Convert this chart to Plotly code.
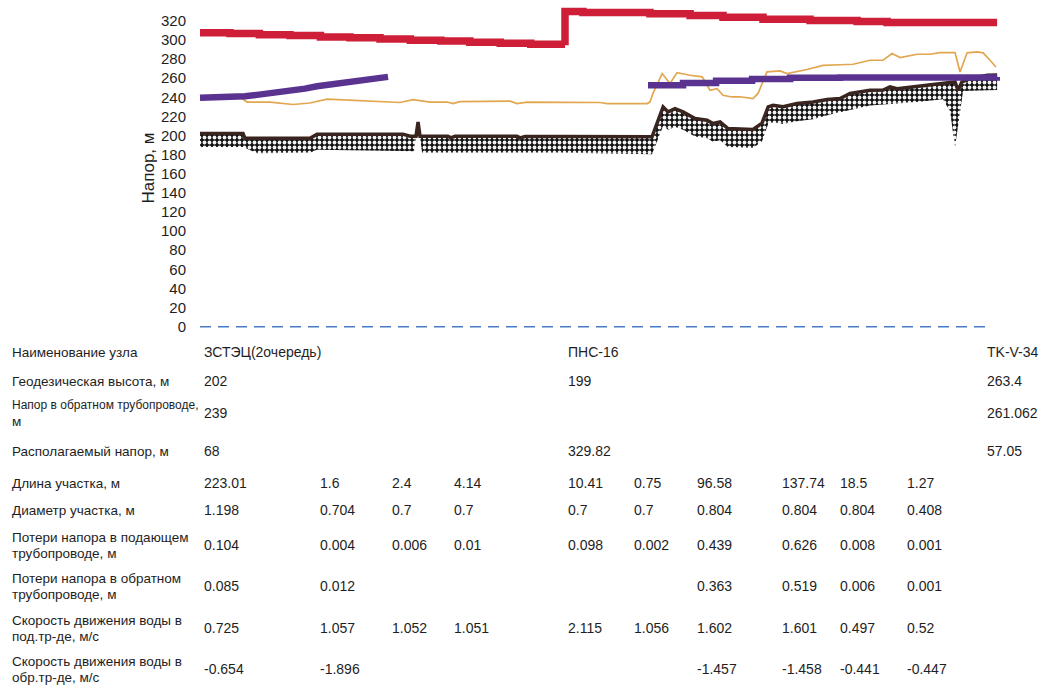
import plotly.graph_objects as go

# ---------------- profile data (distance along route, m) ----------------
# supply head (stepped)
supply1_x = [0, 18.7, 37.0, 56.1, 75.0, 93.4, 112.1, 131.0, 150.0, 168.0, 187.0, 206.0, 227.3]
supply1_y = [307.6, 306.8, 305.5, 304.6, 303.0, 302.2, 301.0, 299.6, 298.8, 297.5, 296.4, 295.4, 294.4]
supply2_x = [227.3, 238.5, 280.2, 305.2, 325.7, 350.6, 379.9, 409.2, 427.9, 496.4]
supply2_y = [329.82, 328.6, 327.4, 325.4, 323.6, 321.6, 320.2, 319.2, 318.1, 318.1]

# return head
return1_x = [0, 20.6, 28.0, 35.5, 43.6, 56.1, 65.4, 72.9, 81.0, 89.1, 99.6, 105.9, 112.1, 117.1]
return1_y = [239.4, 239.4, 241.0, 242.5, 244.0, 246.5, 249.0, 251.5, 253.5, 255.5, 256.5, 258.0, 259.8, 261.3]
return2_x = [279.0, 300.8, 321.4, 343.8, 367.5, 398.6, 496.4]
return2_y = [252.6, 255.0, 257.3, 259.0, 260.3, 260.6, 261.062]

# static / auxiliary head line
aux_x = [0, 24.9, 29.3, 43.6, 57.9, 68.5, 79.1, 93.4, 110.2, 124.6, 132.7, 143.2, 153.8, 157.6,
         161.9, 193.1, 197.4, 203.7, 249.1, 253.5, 278.4, 280.2, 282.1, 287.8, 292.7, 297.1,
         305.2, 312.7, 317.6, 322.0, 325.7, 331.3, 336.3, 344.4, 347.5, 353.1, 361.2, 365.6,
         378.0, 388.0, 398.6, 406.7, 417.3, 425.4, 431.0, 436.0, 446.6, 454.6, 460.9, 470.2,
         473.3, 477.7, 483.9, 487.7, 492.0, 495.7]
aux_y = [240.3, 240.3, 235.0, 235.0, 232.4, 234.0, 238.0, 237.0, 235.8, 234.5, 237.6, 235.0, 235.0, 233.4,
         235.5, 236.0, 233.4, 235.0, 234.5, 233.4, 233.4, 235.0, 244.0, 264.8, 254.3, 265.8,
         263.0, 261.3, 247.3, 249.0, 242.0, 240.3, 240.5, 238.7, 244.0, 266.5, 267.5, 264.8,
         269.0, 273.4, 274.0, 274.5, 278.7, 278.7, 285.7, 281.5, 285.0, 285.0, 286.7, 286.7,
         266.5, 286.5, 287.4, 286.5, 278.7, 271.7]

# ground elevation (top of terrain band)
ground_x = [0, 26.8, 28.0, 68.5, 72.9, 126.4, 130.8, 134.5, 135.8, 137.0, 154.4, 156.3, 158.8,
            197.4, 199.3, 202.4, 227.3, 281.5, 288.4, 291.5, 295.8, 300.8, 308.3, 315.8, 319.5,
            323.9, 328.8, 344.4, 350.0, 353.8, 356.9, 363.1, 371.8, 381.8, 390.5, 398.6, 404.8,
            417.3, 425.4, 429.7, 434.1, 446.6, 460.9, 470.2, 472.1, 474.5, 479.6, 490.2, 496.4]
ground_y = [202.0, 202.0, 197.0, 197.0, 201.4, 201.4, 199.3, 199.3, 214.0, 199.3, 199.3, 197.5, 199.3,
            199.3, 197.5, 199.0, 199.0, 198.6, 230.0, 224.7, 228.0, 224.7, 217.8, 216.0, 212.5,
            214.2, 207.3, 206.3, 213.0, 230.0, 231.5, 230.0, 233.4, 235.0, 237.6, 238.7, 243.9,
            247.3, 247.5, 250.8, 249.0, 251.5, 254.3, 256.0, 247.3, 256.0, 259.5, 263.0, 263.4]

# lower edge of terrain band
band_x = [0, 26.8, 35.5, 68.5, 72.9, 130.8, 133.3, 134.5, 137.0, 138.3, 227.3, 281.5, 288.4,
          291.5, 295.8, 300.8, 308.3, 315.8, 319.5, 323.9, 328.8, 344.4, 350.0, 353.8, 356.9,
          363.1, 371.8, 381.8, 392.4, 417.3, 446.6, 462.7, 467.1, 470.2, 473.3, 475.2, 496.4]
band_y = [188.0, 188.0, 181.5, 182.0, 185.0, 183.5, 183.5, 199.0, 199.0, 182.0, 182.0, 180.5, 210.0,
          206.0, 209.0, 206.0, 199.0, 197.0, 193.5, 195.0, 188.0, 187.0, 194.0, 212.0, 213.5,
          212.0, 215.0, 217.0, 222.0, 231.4, 235.0, 238.0, 225.0, 188.0, 225.0, 246.5, 247.5]

zero_x = [0, 492.0]
zero_y = [0, 0]

y_ticks = list(range(0, 321, 20))

# ---------------- table under the profile ----------------
row_labels = [
    ["Наименование узла"],
    ["Геодезическая высота, м"],
    ["Напор в обратном трубопроводе,", "м"],
    ["Располагаемый напор, м"],
    ["Длина участка, м"],
    ["Диаметр участка, м"],
    ["Потери напора в подающем", "трубопроводе, м"],
    ["Потери напора в обратном", "трубопроводе, м"],
    ["Скорость движения воды в", "под.тр-де, м/с"],
    ["Скорость движения воды в", "обр.тр-де, м/с"],
]
node_names = ["ЗСТЭЦ(2очередь)", None, None, None, "ПНС-16", None, None, None, None, None, "TK-V-34"]
geo_height = ["202", None, None, None, "199", None, None, None, None, None, "263.4"]
return_head = ["239", None, None, None, None, None, None, None, None, None, "261.062"]
avail_head = ["68", None, None, None, "329.82", None, None, None, None, None, "57.05"]
seg_length = ["223.01", "1.6", "2.4", "4.14", "10.41", "0.75", "96.58", "137.74", "18.5", "1.27", None]
seg_diam = ["1.198", "0.704", "0.7", "0.7", "0.7", "0.7", "0.804", "0.804", "0.804", "0.408", None]
loss_supply = ["0.104", "0.004", "0.006", "0.01", "0.098", "0.002", "0.439", "0.626", "0.008", "0.001", None]
loss_return = ["0.085", "0.012", None, None, None, None, "0.363", "0.519", "0.006", "0.001", None]
speed_supply = ["0.725", "1.057", "1.052", "1.051", "2.115", "1.056", "1.602", "1.601", "0.497", "0.52", None]
speed_return = ["-0.654", "-1.896", None, None, None, None, "-1.457", "-1.458", "-0.441", "-0.447", None]
table_rows = [node_names, geo_height, return_head, avail_head, seg_length, seg_diam,
              loss_supply, loss_return, speed_supply, speed_return]

# ---------------- page geometry ----------------
W, H = 1041, 695
ML, MR, MT, MB = 197, 41, 5, 364
PW, PH = W - ML - MR, H - MT - MB
row_center_px = [352, 381, 413, 451, 483, 510, 545, 586, 628, 669]
col_left_px = [202, 318, 390, 452, 566, 632, 695, 780, 838, 905, 985]
label_left_px = 10

FONT = "Liberation Sans Narrow, Arial Narrow, Liberation Sans, sans-serif"
TXT = "#1e1e1e"
RED = "#cf1f38"
PURPLE = "#5a3390"


def px_x(px):
    return (px - ML) / PW


def px_y(py):
    return 1 - (py - MT) / PH


fig = go.Figure()

# terrain band: lower edge, then top edge filled down to it
fig.add_trace(go.Scatter(x=band_x, y=band_y, mode="lines", line=dict(width=0, color="rgba(0,0,0,0)"),
                         hoverinfo="skip", showlegend=False))
fig.add_trace(go.Scatter(x=ground_x, y=ground_y, mode="lines", fill="tonexty",
                         fillcolor="#111111",
                         fillpattern=dict(shape=".", size=5, solidity=0.45, fgcolor="#f2f2f2",
                                          bgcolor="#111111", fillmode="replace"),
                         line=dict(width=3.5, color="#3a2420"), showlegend=False))

fig.add_trace(go.Scatter(x=aux_x, y=aux_y, mode="lines", line=dict(width=1.7, color="#e2a64e"),
                         showlegend=False))
fig.add_trace(go.Scatter(x=return1_x, y=return1_y, mode="lines", line=dict(width=6.5, color=PURPLE),
                         showlegend=False))
fig.add_trace(go.Scatter(x=return2_x, y=return2_y, mode="lines", line=dict(width=6.5, color=PURPLE, shape="hv"),
                         showlegend=False))
fig.add_trace(go.Scatter(x=supply1_x + supply2_x, y=supply1_y + supply2_y, mode="lines",
                         line=dict(width=7.5, color=RED, shape="hv"), showlegend=False))
fig.add_trace(go.Scatter(x=zero_x, y=zero_y, mode="lines",
                         line=dict(width=1.5, color="#4a7cc4", dash="11px,7px"), showlegend=False))

annotations = []
for labels, yc in zip(row_labels, row_center_px):
    offs = [0] if len(labels) == 1 else [-8, 8]
    # the long first line of a wrapped label is set a little smaller to stay clear of the values
    for text, off in zip(labels, offs):
        size = 12 if len(text) > 28 else 13.5
        annotations.append(dict(x=px_x(label_left_px), y=px_y(yc + off), xref="paper", yref="paper",
                                text=text, showarrow=False, xanchor="left", yanchor="middle",
                                font=dict(family=FONT, size=size, color=TXT)))
for values, yc in zip(table_rows, row_center_px):
    for val, cx in zip(values, col_left_px):
        if val is None:
            continue
        annotations.append(dict(x=px_x(cx), y=px_y(yc), xref="paper", yref="paper",
                                text=val, showarrow=False, xanchor="left", yanchor="middle",
                                font=dict(family=FONT, size=14, color=TXT)))

fig.update_layout(
    width=W, height=H,
    margin=dict(l=ML, r=MR, t=MT, b=MB, pad=0),
    paper_bgcolor="white", plot_bgcolor="white",
    showlegend=False,
    annotations=annotations,
    xaxis=dict(range=[-1.87, 498.2], visible=False, showgrid=False, zeroline=False),
    yaxis=dict(range=[-4.5, 336.5], tickvals=y_ticks, showgrid=False, zeroline=False, showline=False,
               ticks="", ticklabelstandoff=10,
               tickfont=dict(family=FONT, size=15, color=TXT),
               title=dict(text="Напор, м", standoff=2, font=dict(family=FONT, size=17, color=TXT))),
)

fig.write_html("out.html")
